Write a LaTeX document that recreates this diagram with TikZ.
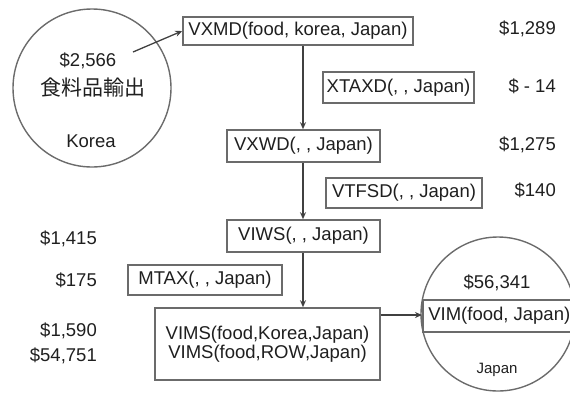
\documentclass[tikz,border=0pt]{standalone}
\usepackage{fontspec}
\setmainfont{Liberation Sans}
\newfontfamily\cjk{Noto Sans CJK JP}
\usetikzlibrary{arrows.meta}
\definecolor{txt}{gray}{0.12}
\definecolor{edge}{gray}{0.42}
\definecolor{wire}{gray}{0.25}
\begin{document}
\begin{tikzpicture}[x=1pt,y=-1pt,
  every node/.style={text=txt,font=\fontsize{18.5}{19}\selectfont,inner sep=0pt},
  vbox/.style={draw=edge,line width=1.6pt,fill=white,align=center},
  val/.style={anchor=mid east},
  ring/.style={draw=edge,line width=1.4pt,circle},
  wirearrow/.style={draw=wire,line width=1.3pt,-{Stealth[length=7pt,width=6pt]}}
]
\useasboundingbox (0,0) rectangle (570,392);
% Korea circle
\node[ring,minimum size=158pt] (korea) at (92,88) {};
\node (v2566) at (88,61) {\$2,566};
\node (jp) at (93,88) {\cjk\fontsize{21}{22}\selectfont 食料品輸出};
\node (koreaL) at (91,141) {Korea};
\coordinate (kstart) at (133,52);
% boxes
\node[vbox,minimum width=230pt,minimum height=28pt] (vxmd) at (298,31) {VXMD(food, korea, Japan)};
\node[vbox,minimum width=151pt,minimum height=31pt] (xtaxd) at (398.5,87.5) {XTAXD(, , Japan)};
\node[vbox,minimum width=153pt,minimum height=32pt] (vxwd) at (303.5,146) {VXWD(, , Japan)};
\node[vbox,minimum width=156pt,minimum height=30pt] (vtfsd) at (404,193) {VTFSD(, , Japan)};
\node[vbox,minimum width=153pt,minimum height=32pt] (viws) at (303.5,236) {VIWS(, , Japan)};
\node[vbox,minimum width=154pt,minimum height=30pt] (mtax) at (205,280) {MTAX(, , Japan)};
\node[vbox,minimum width=225pt,minimum height=72pt] (vims) at (267.5,344) {VIMS(food,Korea,Japan)\\VIMS(food,ROW,Japan)};
% Japan circle
\node[ring,minimum size=154pt] (japan) at (498,314) {};
\node[vbox,anchor=west,minimum width=153pt,minimum height=32pt] (vim) at (422,316) {VIM(food, Japan)};
\node (v56341) at (497,283) {\$56,341};
\node[font=\fontsize{15}{16}\selectfont] (japanL) at (497,370) {Japan};
% values right
\node[val] (v1289) at (556,32) {\$1,289};
\node[val] (v14) at (556,90) {\$ - 14};
\node[val] (v1275) at (556,148) {\$1,275};
\node[val] (v140) at (556,194) {\$140};
% values left
\node[val] (v1415) at (97,242) {\$1,415};
\node[val] (v175) at (97,284) {\$175};
\node[val] (v1590) at (97,334) {\$1,590};
\node[val] (v54751) at (97,359) {\$54,751};
% connectors
\draw[wirearrow] (kstart) -- (vxmd.west |- 0,31) ;
\draw[wirearrow] (vxmd.south -| 303,0) -- (vxwd.north -| 303,0);
\draw[wirearrow] (vxwd.south -| 303,0) -- (viws.north -| 303,0);
\draw[wirearrow] (viws.south -| 303,0) -- (vims.north -| 303,0);
\draw[wirearrow] (vims.east |- 0,315) -- (vim.west |- 0,315);
\end{tikzpicture}
\end{document}
